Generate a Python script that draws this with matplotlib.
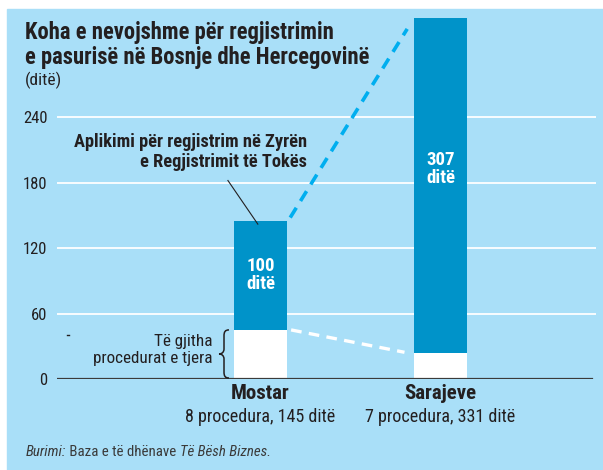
import matplotlib
matplotlib.use('Agg')
import matplotlib.pyplot as plt
from matplotlib import font_manager
from matplotlib.patches import Rectangle, PathPatch
from matplotlib.path import Path

# data
cities = ['Mostar', 'Sarajeve']
subtitles = ['8 procedura, 145 ditë', '7 procedura, 331 ditë']
other_days = [45, 24]        # të gjitha procedurat e tjera
registry_days = [100, 307]   # aplikimi në Zyrën e Regjistrimit
reg_labels = ['100\nditë', '307\nditë']
yticks = [0, 60, 120, 180, 240]

BG = '#a9dff8'
BLUE = '#0093c9'
DASH = '#00aeef'
INK = '#231f20'

names = {f.name for f in font_manager.fontManager.ttflist}
FONT = next((n for n in ['Roboto Condensed', 'Liberation Sans Narrow',
                         'Open Sans Condensed', 'Open Sans'] if n in names), 'DejaVu Sans')
plt.rcParams['font.family'] = [FONT, 'DejaVu Sans']

W, H = 603, 470
fig = plt.figure(figsize=(W / 100, H / 100), dpi=100)
fig.patch.set_facecolor('white')
fig.patches.append(Rectangle((7 / W, 0), 1 - 7 / W, 1 - 9 / H,
                             transform=fig.transFigure, color=BG, zorder=-5))

def fpos(x, y):
    return x / W, 1 - y / H

ax = fig.add_axes([57 / W, (H - 379) / H, (596 - 57) / W, (379 - 18) / H])
ax.set_facecolor('none')
ax.set_xlim(-1.1306, 1.8639)
ax.set_ylim(0, 331)
for s in ax.spines.values():
    s.set_visible(False)

x = [0, 1]
bw = 0.294
totals = [a + b for a, b in zip(other_days, registry_days)]

for v in yticks[1:]:
    ax.axhline(v, color='white', lw=1.3, zorder=1)
ax.axhline(0, xmin=0, xmax=(592 - 57) / (596 - 57), color='#3b3b3b', lw=1.6, zorder=4)

ax.bar(x, other_days, bw, color='white', zorder=3)
ax.bar(x, registry_days, bw, bottom=other_days, color=BLUE, zorder=3)

# dashed connectors
ax.plot([x[0] + 0.165, x[1] - 0.185], [totals[0] + 3, totals[1] - 10],
        color=DASH, lw=2.6, dashes=(3.2, 2.2), zorder=2, clip_on=False)
ax.plot([x[0] + 0.17, x[1] - 0.2], [other_days[0], other_days[1] + 0.5],
        color='white', lw=2.4, dashes=(3.2, 2.2), zorder=2)

ax.set_yticks(yticks)
ax.set_yticklabels([str(v) for v in yticks], fontsize=12, color=INK)
ax.tick_params(axis='y', length=0, pad=7)
ax.set_xticks([])

# value labels inside bars
label_y = [95, 193]
for xi, ly, t in zip(x, label_y, reg_labels):
    ax.text(xi, ly, t, ha='center', va='center', color='white',
            fontsize=13.5, fontweight='bold', linespacing=1.0, zorder=5)

# category labels
for xi, c, s in zip(x, cities, subtitles):
    ax.annotate(c, (xi, 0), xytext=(0, -10.5), textcoords='offset points',
                ha='center', va='center', fontsize=15, fontweight='bold', color=INK)
    ax.annotate(s, (xi, 0), xytext=(0, -27.5), textcoords='offset points',
                ha='center', va='center', fontsize=13, color=INK)

# annotations
ax.text(0.26, 208, 'Aplikimi për regjistrim në Zyrën\ne Regjistrimit të Tokës',
        ha='right', va='center', fontsize=13.2, fontweight='bold', color=INK,
        linespacing=1.1)
ax.plot([-0.181, -0.015], [182, totals[0] - 3], color=INK, lw=0.8, zorder=6)

ax.text(-0.268, 26.6, 'Të gjitha\nprocedurat e tjera', ha='right', va='center',
        fontsize=12.3, color=INK, linespacing=1.15)

# curly brace next to the white segment
def d(px, py):
    return (px - 260.5) / 180, (379 - py) * other_days[0] / (379 - 330)

verts = [d(229, 330), d(225, 330), d(224, 332), d(224, 336),
         d(224, 349),
         d(224, 352), d(222, 354), d(219, 354),
         d(222, 354), d(224, 356), d(224, 359),
         d(224, 372),
         d(224, 376), d(225, 378), d(229, 378)]
codes = [Path.MOVETO, Path.CURVE4, Path.CURVE4, Path.CURVE4,
         Path.LINETO,
         Path.CURVE4, Path.CURVE4, Path.CURVE4,
         Path.CURVE4, Path.CURVE4, Path.CURVE4,
         Path.LINETO,
         Path.CURVE4, Path.CURVE4, Path.CURVE4]
ax.add_patch(PathPatch(Path(verts, codes), fill=False, ec=INK, lw=1.1, zorder=6))

ax.plot([-1.075, -1.063], [40, 40], color=INK, lw=1)

# title block
fig.text(*fpos(25, 45), 'Koha e nevojshme për regjistrimin\ne pasurisë në Bosnje dhe Hercegovinë',
         ha='left', va='center', fontsize=16.3, fontweight='bold', color=INK,
         linespacing=1.12)
fig.text(*fpos(25, 80), '(ditë)', ha='left', va='center', fontsize=12.5, color=INK)

# source line
r = fig.canvas.get_renderer()
parts = [('Burimi:', 'italic'), (' Baza e të dhënave ', 'normal'), ('Të Bësh Biznes.', 'italic')]
cx = 26
for txt, st in parts:
    t = fig.text(*fpos(cx, 452), txt, ha='left', va='center', fontsize=10.7,
                 style=st, color='#3a3a3a')
    cx += t.get_window_extent(r).width

fig.savefig('out.png', dpi=100, facecolor=fig.get_facecolor())
